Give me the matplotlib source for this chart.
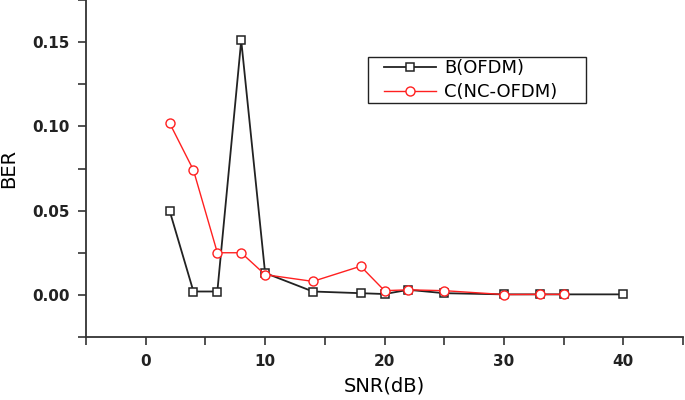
import matplotlib
matplotlib.use("Agg")
import matplotlib.pyplot as plt
from matplotlib.ticker import MultipleLocator, FormatStrFormatter
from matplotlib.patches import Rectangle

# SNR points and BER readings
snr_b = [2, 4, 6, 8, 10, 14, 18, 20, 22, 25, 30, 33, 35, 40]
ber_b = [0.050, 0.002, 0.002, 0.151, 0.013, 0.002, 0.001, 0.0005, 0.003, 0.001, 0.0003, 0.0003, 0.0003, 0.0003]

snr_c = [2, 4, 6, 8, 10, 14, 18, 20, 22, 25, 30, 33, 35]
ber_c = [0.102, 0.074, 0.025, 0.025, 0.012, 0.008, 0.017, 0.0025, 0.003, 0.0025, 0.0002, 0.0003, 0.0003]

W, H = 685, 400
fig = plt.figure(figsize=(W / 100, H / 100), dpi=100)
ax = fig.add_axes([86 / W, 63 / H, 597 / W, 337 / H])

ax.plot(snr_b, ber_b, color='#222222', lw=1.3, marker='s', ms=6,
        mfc='white', mec='#222222', mew=1.1, label='B(OFDM)')
ax.plot(snr_c, ber_c, color='#ff2020', lw=1.0, marker='o', ms=6.5,
        mfc='white', mec='#ff2020', mew=1.0, label='C(NC-OFDM)')

ax.set_xlim(-5, 45)
ax.set_ylim(-0.025, 0.175)
ax.xaxis.set_major_locator(MultipleLocator(10))
ax.xaxis.set_minor_locator(MultipleLocator(5))
ax.yaxis.set_major_locator(MultipleLocator(0.05))
ax.yaxis.set_minor_locator(MultipleLocator(0.025))
ax.yaxis.set_major_formatter(FormatStrFormatter('%.2f'))

for s in ['top', 'right']:
    ax.spines[s].set_visible(False)
for s in ['left', 'bottom']:
    ax.spines[s].set_linewidth(1.3)
    ax.spines[s].set_color('#333333')

ax.tick_params(which='both', direction='out', width=1.2, color='#333333', length=5.5)
ax.tick_params(which='major', labelsize=11, pad=6.5)
for lab in ax.get_xticklabels() + ax.get_yticklabels():
    lab.set_fontweight('bold')
    lab.set_color('#222222')

ax.set_xlabel('SNR(dB)', fontsize=14, labelpad=6)
ax.set_ylabel('BER', fontsize=14, labelpad=10)

# legend without its own frame, box drawn separately
leg = ax.legend(loc='center left', bbox_to_anchor=(384 / W, 1 - 80 / H),
                bbox_transform=fig.transFigure, fontsize=13, frameon=False,
                borderpad=0, borderaxespad=0, handlelength=2.9,
                handletextpad=0.45, labelspacing=0.35)
fig.patches.append(Rectangle((368 / W, 1 - 103 / H), 218 / W, 46 / H,
                             transform=fig.transFigure, fill=False,
                             edgecolor='#222222', lw=1.0))

fig.savefig('out.png', dpi=100)
